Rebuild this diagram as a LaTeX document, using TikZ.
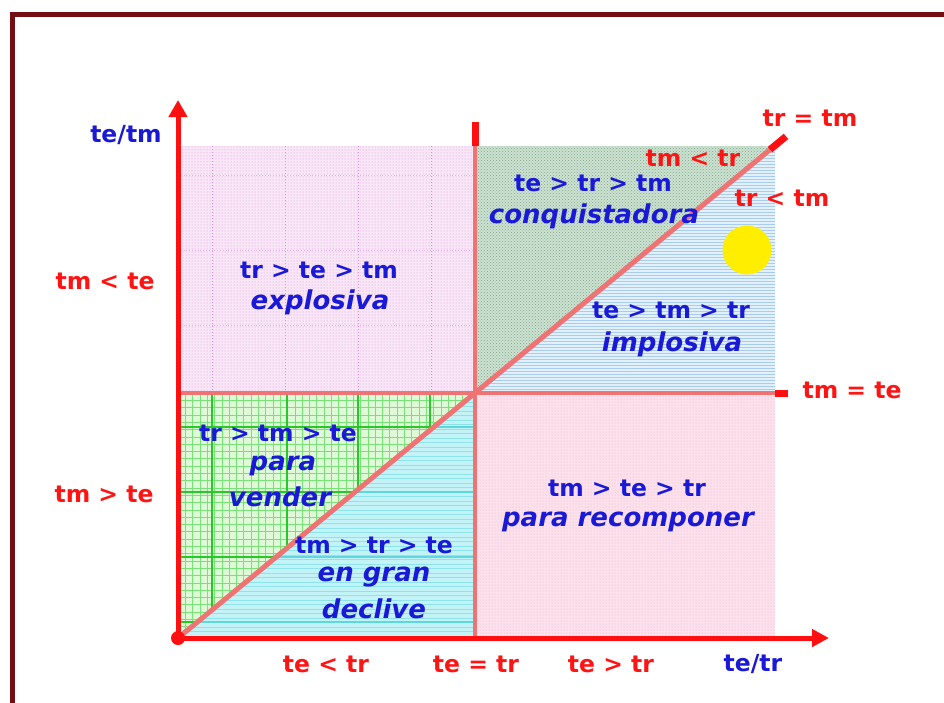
\documentclass[tikz,border=0pt]{standalone}
\usepackage{fontspec}
\setmainfont{DejaVu Sans}
\usetikzlibrary{arrows.meta,patterns}
\definecolor{axisred}{RGB}{255,15,15}
\definecolor{linered}{RGB}{240,115,115}
\definecolor{txtblue}{RGB}{25,25,215}
\definecolor{txtred}{RGB}{255,20,20}
\definecolor{frame}{RGB}{115,15,20}
\definecolor{explfill}{RGB}{249,230,247}
\definecolor{expldot}{RGB}{215,150,215}
\definecolor{conqfill}{RGB}{205,225,210}
\definecolor{conqdot}{RGB}{125,170,135}
\definecolor{implfill}{RGB}{225,240,251}
\definecolor{impldot}{RGB}{170,205,238}
\definecolor{recofill}{RGB}{252,224,236}
\definecolor{recodot}{RGB}{235,185,205}
\definecolor{vendfill}{RGB}{222,250,215}
\definecolor{vendgrid}{RGB}{120,225,120}
\definecolor{vendmaj}{RGB}{40,200,40}
\definecolor{declfill}{RGB}{195,243,247}
\definecolor{declline}{RGB}{95,215,225}
\definecolor{sunyellow}{RGB}{255,238,0}
\tikzset{
  lbl/.style={inner sep=0pt, font=\fontsize{23.5}{26}\selectfont\bfseries},
  bl/.style={lbl, text=txtblue},
  bli/.style={inner sep=0pt, text=txtblue, font=\fontsize{26}{28}\selectfont\bfseries\itshape},
  rd/.style={lbl, text=txtred},
  axis/.style={draw=axisred, line width=5pt},
  midline/.style={draw=linered, line width=4pt},
  diagline/.style={draw=linered, line width=5pt},
  endline/.style={draw=axisred, line width=7pt},
}
\begin{document}
\begin{tikzpicture}[x=1pt,y=-1pt]
\useasboundingbox (0,0) rectangle (944,702);
\clip (0,0) rectangle (944,702);
\fill[white] (0,0) rectangle (944,702);
% frame
\draw[frame, line width=5pt] (12,14) rectangle (965,725);

% key points
\coordinate (O) at (178,638);
\coordinate (C) at (475,393);
\coordinate (Ytip) at (178,100);
\coordinate (Xtip) at (829,638);
\coordinate (Vtop) at (475,122);
\coordinate (Vmid) at (475,146);
\coordinate (Hl) at (178,393);
\coordinate (Hm) at (775,393);
\coordinate (Hr) at (788,393);
\coordinate (Dm) at (770,149.6);
\coordinate (D) at (786,136.4);

% regions
\fill[explfill] (178,146) rectangle (475,393);
\fill[pattern=dots, pattern color=expldot] (178,146) rectangle (475,393);
\begin{scope}
  \clip (178,146) rectangle (475,393);
  \foreach \x in {212,285,358,431} \draw[expldot, dotted, line width=1pt] (\x,146) -- (\x,393);
  \foreach \y in {175,250,325} \draw[expldot!70, dotted, line width=0.8pt] (178,\y) -- (475,\y);
\end{scope}

\fill[conqfill] (475,146) -- (475,393) -- (775,146) -- cycle;
\fill[pattern=crosshatch dots, pattern color=conqdot] (475,146) -- (475,393) -- (775,146) -- cycle;

\fill[implfill] (475,393) -- (775,146) -- (775,393) -- cycle;
\fill[pattern=horizontal lines, pattern color=impldot] (475,393) -- (775,146) -- (775,393) -- cycle;

\fill[recofill] (475,393) rectangle (775,638);
\fill[pattern=dots, pattern color=recodot] (475,393) rectangle (775,638);

\fill[vendfill] (178,393) -- (475,393) -- (178,638) -- cycle;
\begin{scope}
  \clip (178,393) -- (475,393) -- (178,638) -- cycle;
  \foreach \x in {178,185.3,...,475} \draw[vendgrid, line width=0.6pt] (\x,393) -- (\x,638);
  \foreach \y in {393,400.3,...,638} \draw[vendgrid, line width=0.6pt] (178,\y) -- (475,\y);
  \foreach \x in {212,287,358,430} \draw[vendmaj, line width=1.2pt] (\x,393) -- (\x,638);
  \foreach \y in {427,492,557,622} \draw[vendmaj, line width=1.2pt] (178,\y) -- (475,\y);
\end{scope}

\fill[declfill] (O) -- (C) -- (475,638) -- cycle;
\begin{scope}
  \clip (O) -- (C) -- (475,638) -- cycle;
  \foreach \y in {393,397.5,...,638} \draw[declline!70, line width=0.7pt] (178,\y) -- (475,\y);
  \foreach \y in {427,492,557,622} \draw[declline, line width=1.3pt] (178,\y) -- (475,\y);
\end{scope}

% dividing lines
\draw[midline] (Vmid) -- (475,638);
\draw[endline] (Vtop) -- (Vmid);
\draw[midline] (Hl) -- (Hm);
\draw[endline] (Hm) -- (Hr);
\draw[diagline] (O) -- (Dm);
\draw[endline] (Dm) -- (D);

% axes
\draw[axis, -{Triangle[length=17pt,width=18pt]}] (O) -- (Ytip);
\draw[axis, -{Triangle[length=17pt,width=17pt]}] (O) -- (Xtip);
\node[circle, fill=axisred, minimum size=14pt, inner sep=0pt] (odot) at (O) {};

% sun
\node[circle, fill=sunyellow, minimum size=49pt, inner sep=0pt] (sun) at (747,250) {};

% axis labels
\node[bl] (ylab) at (126,135) {te/tm};
\node[bl] (xlab) at (753,664) {te/tr};
\node[rd] (tmlte) at (105,281) {tm < te};
\node[rd] (tmgte) at (104,494) {tm > te};
\node[rd] (teltr) at (326,664) {te < tr};
\node[rd] (teeqtr) at (476,664) {te = tr};
\node[rd] (tegtr) at (611,664) {te > tr};
\node[rd] (treqtm) at (810,118) {tr = tm};
\node[rd] (tmltr) at (693,158) {tm < tr};
\node[rd] (trltm) at (782,198) {tr < tm};
\node[rd] (tmeqte) at (852,390) {tm = te};

% region labels
\node[bl] (r1a) at (319,270) {tr > te > tm};
\node[bli] (r1b) at (320,302) {explosiva};
\node[bl] (r2a) at (593,183) {te > tr > tm};
\node[bli] (r2b) at (594,216) {conquistadora};
\node[bl] (r3a) at (671,310) {te > tm > tr};
\node[bli] (r3b) at (672,344) {implosiva};
\node[bl] (r4a) at (627,488) {tm > te > tr};
\node[bli] (r4b) at (628,522) {para recomponer};
\node[bl] (r5a) at (278,433) {tr > tm > te};
\node[bli] (r5b) at (283,466) {para};
\node[bli] (r5c) at (280,497) {vender};
\node[bl] (r6a) at (374,545) {tm > tr > te};
\node[bli] (r6b) at (374,577) {en gran};
\node[bli] (r6c) at (374,609) {declive};
\end{tikzpicture}
\end{document}
